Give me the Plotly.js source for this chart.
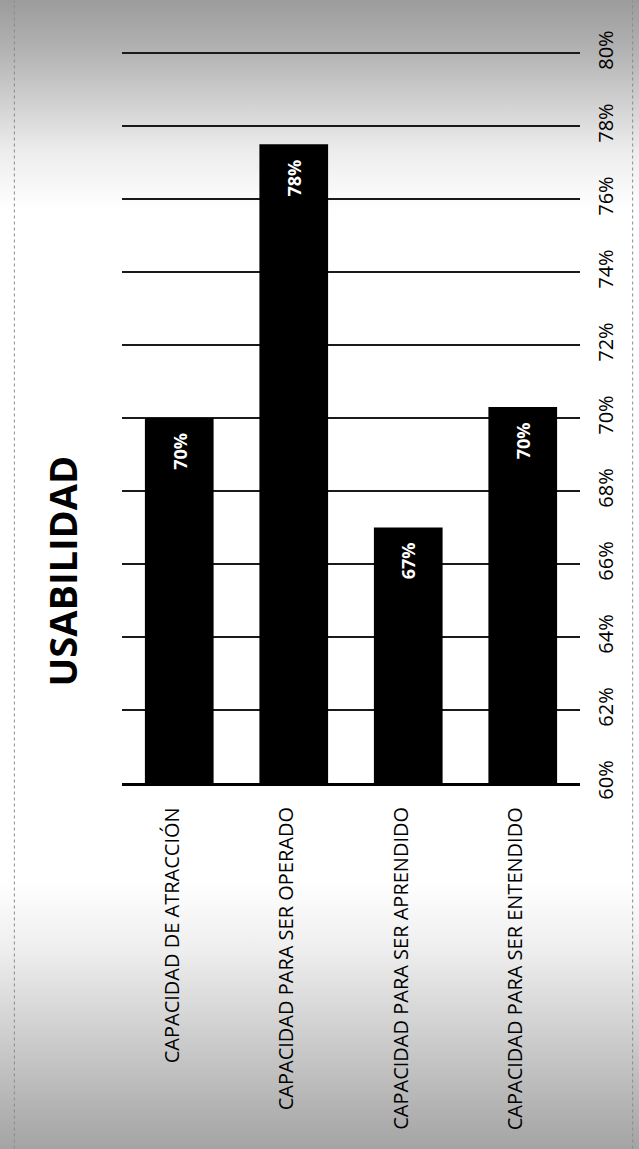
<!DOCTYPE html>
<html>
<head>
<meta charset="utf-8">
<script src="https://cdn.plot.ly/plotly-3.0.1.min.js"></script>
<style>
  html, body { margin: 0; padding: 0; }
  body {
    width: 639px; height: 1149px; overflow: hidden;
    background: linear-gradient(to bottom,
      #9c9c9c 0px, #b2b2b2 50px, #cfcfcf 100px, #ececec 150px, #ffffff 210px,
      #ffffff 880px, #eeeeee 950px, #d0d0d0 1030px, #b2b2b2 1110px, #a4a4a4 1149px);
  }
  #chart { width: 639px; height: 1149px; }
</style>
</head>
<body>
<div id="chart"></div>
<script>
// Usability criteria and their scores (percent)
const categories = [
  'CAPACIDAD DE ATRACCIÓN',
  'CAPACIDAD PARA SER OPERADO',
  'CAPACIDAD PARA SER APRENDIDO',
  'CAPACIDAD PARA SER ENTENDIDO'
];
const scores = [70, 77.5, 67, 70.3];
const tickValues = [60, 62, 64, 66, 68, 70, 72, 74, 76, 78, 80];
const tickLabels = ['60%', '62%', '64%', '66%', '68%', '70%', '72%', '74%', '76%', '78%', '80%'];
const chartTitle = 'USABILIDAD';

const fontFamily = '"Open Sans", "DejaVu Sans", sans-serif';

const trace = {
  type: 'bar',
  x: categories,
  y: scores,
  width: 0.6,
  marker: { color: '#000000', line: { width: 0 } },
  hoverinfo: 'skip'
};

// value labels just inside the top end of each bar
const valueLabels = scores.map((v, i) => ({
  x: categories[i],
  y: v,
  xref: 'x', yref: 'y',
  text: Math.round(v) + '%',
  showarrow: false,
  textangle: -90,
  yanchor: 'top',
  xanchor: 'center',
  yshift: -13,
  font: { family: fontFamily, size: 18, color: '#ffffff', weight: 'bold' }
}));

// category names, read upward, ending just under the base line
const categoryLabels = categories.map(c => ({
  x: c,
  y: 0,
  xref: 'x', yref: 'paper',
  text: c,
  showarrow: false,
  textangle: -90,
  yanchor: 'top',
  xanchor: 'center',
  yshift: -22,
  xshift: -8,
  font: { family: fontFamily, size: 20, color: '#000000' }
}));

const titleLabel = {
  xref: 'paper', yref: 'paper',
  x: -0.13, y: 0.29,
  text: '<b>' + chartTitle + '</b>',
  showarrow: false,
  textangle: -90,
  xanchor: 'center', yanchor: 'middle',
  font: { family: fontFamily, size: 38, color: '#000000' }
};

// faint page edges of the sheet
const pageEdges = [
  { type: 'line', xref: 'paper', yref: 'paper', x0: -0.235, x1: -0.235, y0: -0.5, y1: 1.07,
    line: { color: '#8a8a8a', width: 1, dash: 'dot' } },
  { type: 'line', xref: 'paper', yref: 'paper', x0: 1.115, x1: 1.115, y0: -0.5, y1: 1.07,
    line: { color: '#8a8a8a', width: 1, dash: 'dot' } }
];

const layout = {
  width: 639,
  height: 1149,
  margin: { l: 122, r: 59, t: 52, b: 366 },
  paper_bgcolor: 'rgba(0,0,0,0)',
  plot_bgcolor: 'rgba(0,0,0,0)',
  showlegend: false,
  xaxis: {
    type: 'category',
    showline: true,
    linecolor: '#000000',
    linewidth: 3,
    ticks: '',
    showgrid: false,
    showticklabels: false
  },
  yaxis: {
    range: [60, 80.03],
    tickvals: tickValues,
    ticktext: tickLabels,
    side: 'right',
    tickangle: -90,
    showgrid: true,
    gridcolor: '#1a1a1a',
    gridwidth: 1.6,
    zeroline: false,
    showline: false,
    ticks: '',
    tickfont: { family: fontFamily, size: 20, color: '#000000' },
    ticklabelstandoff: 12
  },
  shapes: pageEdges,
  annotations: valueLabels.concat(categoryLabels, [titleLabel])
};

Plotly.newPlot('chart', [trace], layout, { displayModeBar: false, staticPlot: true });
</script>
</body>
</html>
